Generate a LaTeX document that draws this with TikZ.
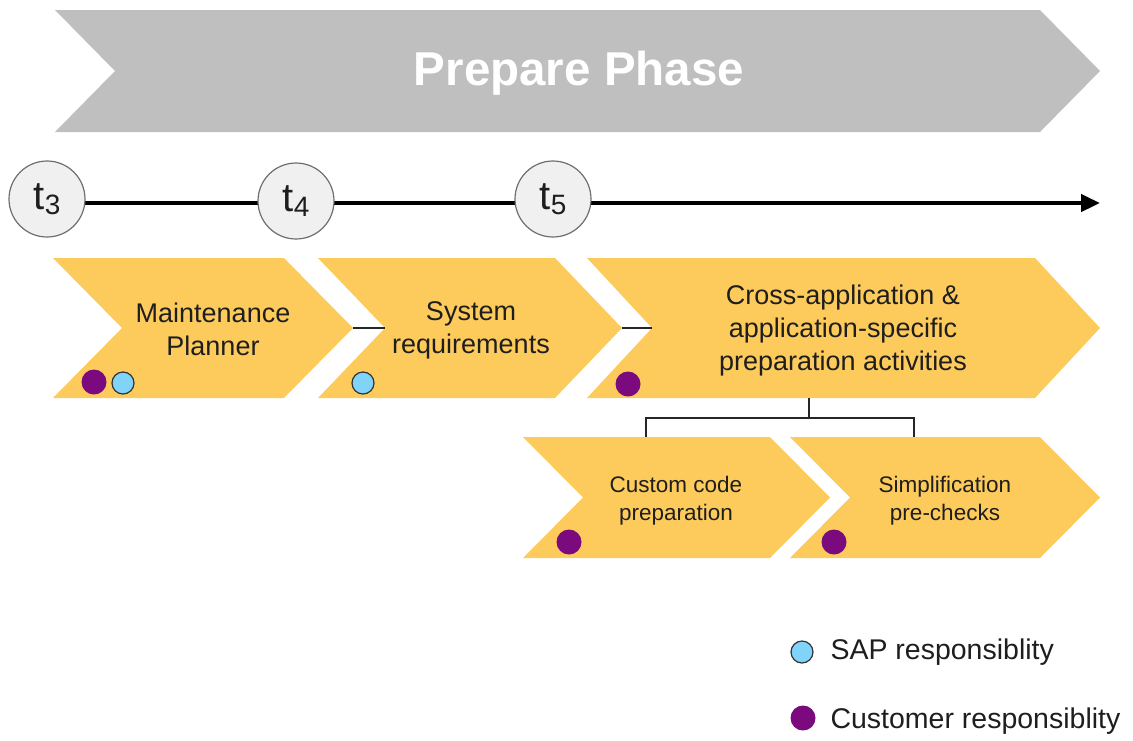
\documentclass[tikz,border=0pt]{standalone}
\usepackage{fontspec}
\setmainfont{Liberation Sans}
\usetikzlibrary{arrows.meta}
\definecolor{phasegrey}{HTML}{BFBFBF}
\definecolor{stepyellow}{HTML}{FDCB5C}
\definecolor{custpurple}{HTML}{7A0A7D}
\definecolor{sapblue}{HTML}{80D4FA}
\definecolor{txtdark}{HTML}{1E1E1E}
\definecolor{circfill}{HTML}{F0F0F0}
\definecolor{circline}{HTML}{6E6E6E}
\newcommand\chev[7]{%
  \path[fill=#7] (#2,#4) -- ({#3-#6},#4) -- (#3,{(#4+#5)/2}) -- ({#3-#6},#5) -- (#2,#5) -- ({#2+#6},{(#4+#5)/2}) -- cycle;
  \coordinate (#1-tip) at (#3,{(#4+#5)/2});
  \coordinate (#1-notch) at ({#2+#6},{(#4+#5)/2});
}
\tikzset{
  tcirc/.style={circle, draw=circline, line width=1.2pt, fill=circfill, minimum size=76pt, inner sep=0pt, text=txtdark},
  steptext/.style={align=center, text=txtdark, font=\fontsize{27}{33}\selectfont},
  subtext/.style={align=center, text=txtdark, font=\fontsize{22.5}{28}\selectfont},
  custdot/.style={circle, fill=custpurple, minimum size=25pt, inner sep=0pt},
  sapdot/.style={circle, fill=sapblue, draw=black!80, line width=1.2pt, minimum size=22pt, inner sep=0pt},
  thinlink/.style={draw=black!85, line width=1.3pt},
  legtext/.style={anchor=west, text=txtdark, font=\fontsize{28.5}{33}\selectfont},
}
\begin{document}
\begin{tikzpicture}[x=1pt, y=-1pt]
\useasboundingbox (0,0) rectangle (1133,740);
% phase chevron
\chev{phase}{55}{1100}{10}{132}{60}{phasegrey}
\node[text=white, font=\bfseries\fontsize{47.5}{50}\selectfont] (phasetitle) at (579,73) {Prepare Phase};
% timeline
\coordinate (tend) at (1100,203);
\coordinate (tstart) at (47,203);
\draw[line width=4.5pt, -{Triangle[length=19pt,width=17pt]}] (tstart) -- (tend);
\node[tcirc] (t3) at (47,199) {\fontsize{40}{40}\selectfont t\raisebox{-5pt}{\fontsize{28}{28}\selectfont 3}};
\node[tcirc] (t4) at (296,201) {\fontsize{40}{40}\selectfont t\raisebox{-5pt}{\fontsize{28}{28}\selectfont 4}};
\node[tcirc] (t5) at (553,199) {\fontsize{40}{40}\selectfont t\raisebox{-5pt}{\fontsize{28}{28}\selectfont 5}};
% row 1
\chev{mp}{53}{353}{258}{398}{69}{stepyellow}
\chev{sr}{318}{622}{258}{398}{67}{stepyellow}
\chev{ca}{587}{1100}{258}{398}{65}{stepyellow}
\node[steptext] (mptext) at (213,329) {Maintenance\\Planner};
\node[steptext] (srtext) at (471,330) {System\\requirements};
\node[steptext] (catext) at (843,331) {Cross-application \&\\application-specific\\preparation activities};
\draw[thinlink] (mp-tip) -- (sr-notch);
\draw[thinlink] (sr-tip) -- (ca-notch);
% row 2
\chev{cc}{523}{830}{437}{558}{60}{stepyellow}
\chev{sp}{790}{1100}{437}{558}{60}{stepyellow}
\node[subtext] (cctext) at (676,501) {Custom code\\preparation};
\node[subtext] (sptext) at (945,501) {Simplification\\pre-checks};
% tree connector
\coordinate (cabot) at (809,398);
\coordinate (ccTop) at (646,437);
\coordinate (spTop) at (914,437);
\draw[thinlink] (cabot) -- (809,418) -| (ccTop);
\draw[thinlink] (809,418) -| (spTop);
% dots
\node[custdot] (d1) at (94,382) {};
\node[sapdot] (d2) at (123,383) {};
\node[sapdot] (d3) at (363,383) {};
\node[custdot] (d4) at (628,384) {};
\node[custdot] (d5) at (569,542) {};
\node[custdot] (d6) at (834,542) {};
% legend
\node[sapdot] (lsap) at (802,652) {};
\node[legtext] (lsaptext) at (827,652) {SAP responsiblity};
\node[custdot] (lcust) at (803,718) {};
\node[legtext] (lcusttext) at (827,721) {Customer responsiblity};
\end{tikzpicture}
\end{document}
